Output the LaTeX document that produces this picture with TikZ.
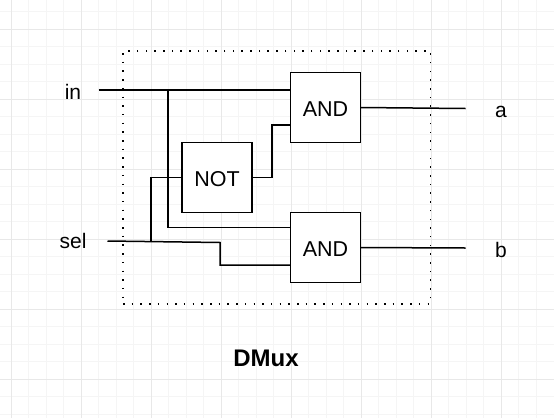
\documentclass[tikz,border=0pt]{standalone}
\usepackage{fontspec}
\setmainfont{Liberation Sans}
\usetikzlibrary{positioning}

\begin{document}
\begin{tikzpicture}[
         x=1pt, y=-1pt,
         minorline/.style={draw=black!4, line width=0.8pt},
         majorline/.style={draw=black!9, line width=1pt},
         frame/.style={draw, line width=1.5pt, dash pattern=on 1.5pt off 7.2pt, minimum width=307.5pt, minimum height=253pt, inner sep=0pt, outer sep=0pt},
         gate/.style={draw, fill=white, line width=1.5pt, minimum size=70pt, inner sep=0pt, outer sep=0pt, text height=18pt, text depth=0pt, font=\fontsize{21.5}{24}\selectfont},
         wire/.style={line width=1.5pt},
         port/.style={font=\fontsize{21}{24}\selectfont, inner sep=0pt},
         title/.style={font=\fontsize{24}{28}\selectfont\bfseries, inner sep=0pt}
      ]
         \useasboundingbox (0,0) rectangle (554,418);
         \fill[white] (0,0) rectangle (554,418);

         % Paper grid
         \foreach \gx in {11,28.5,...,553} \draw[minorline] (\gx,0) -- (\gx,418);
         \foreach \gy in {11.5,29,...,418} \draw[minorline] (0,\gy) -- (554,\gy);
         \foreach \gx in {11,81,...,501} \draw[majorline] (\gx,0) -- (\gx,418);
         \foreach \gy in {29,99,...,379} \draw[majorline] (0,\gy) -- (554,\gy);

         % Nodes for the chip
         \node[frame] (chip) at (276.75,177.5) {};
         \node[gate] (and1) at (325.5,107.5) {AND};
         \node[gate] (and2) [below=70pt of and1] {AND};
         \node[gate] (not) at (217,177.5) {NOT};

         % Nodes for the pins
         \node[port, anchor=base] (in) at (73,99) {in};
         \node[port, anchor=base] (sel) at (73,248) {sel};
         \node[port, anchor=base] (a) at (501,117) {a};
         \node[port, anchor=base] (b) at (501,257) {b};
         \node[title] (name) at (266,358) {DMux};

         % Free ends and branch points
         \coordinate (inend) at (98.5,90);
         \coordinate (selend) at (107.5,241);
         \coordinate (aend) at (465.5,108.5);
         \coordinate (bend) at (465.5,248);
         \coordinate (insplit) at (168,90);
         \coordinate (selsplit) at (151,241);
         \coordinate (selbend) at (220,242.5);

         % Wires
         \draw[wire] (inend) -- (inend -| and1.west);
         \draw[wire] (insplit) |- ([yshift=20pt]and2.west);
         \draw[wire] (selend) -- (selbend) |- ([yshift=-17.5pt]and2.west);
         \draw[wire] (selsplit) |- (not.west);
         \draw[wire] (not.east) -- +(20,0) |- ([yshift=-17.5pt]and1.west);
         \draw[wire] (and1.east) -- (aend);
         \draw[wire] (and2.east) -- (bend);
      \end{tikzpicture}
\end{document}
